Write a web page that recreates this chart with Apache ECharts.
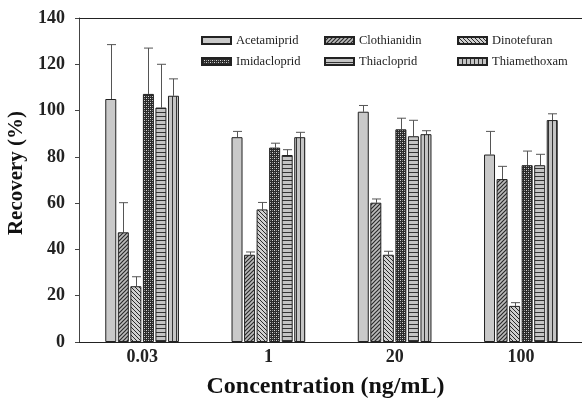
<!DOCTYPE html>
<html>
<head>
<meta charset="utf-8">
<script src="https://cdn.jsdelivr.net/npm/echarts@6/dist/echarts.min.js"></script>
<style>
  html, body { margin: 0; padding: 0; background: #fff; }
  #chart { width: 582px; height: 399px; }
</style>
</head>
<body>
<div id="chart"></div>
<script>
/* Recovery of neonicotinoids at four spiking levels */
const categories = ["0.03", "1", "20", "100"];
const names = ["Acetamiprid", "Clothianidin", "Dinotefuran", "Imidacloprid", "Thiacloprid", "Thiamethoxam"];

const acetamiprid  = [105.0, 88.5, 99.5, 81.0];
const clothianidin = [47.4, 37.7, 60.2, 70.4];
const dinotefuran  = [24.1, 57.3, 37.7, 15.6];
const imidacloprid = [107.2, 84.0, 91.9, 76.4];
const thiacloprid  = [101.3, 80.8, 88.9, 76.4];
const thiamethoxam = [106.4, 88.5, 89.8, 95.9];

const errAcetamiprid  = [23.5, 2.5, 2.7, 10.0];
const errClothianidin = [12.8, 1.2, 1.6, 5.5];
const errDinotefuran  = [4.1, 3.0, 1.5, 1.4];
const errImidacloprid = [19.8, 1.9, 4.8, 6.1];
const errThiacloprid  = [18.7, 2.3, 6.9, 4.7];
const errThiamethoxam = [7.3, 2.1, 1.5, 2.7];

const yTicks = [0, 20, 40, 60, 80, 100, 120, 140];

const values = [acetamiprid, clothianidin, dinotefuran, imidacloprid, thiacloprid, thiamethoxam];
const errors = [errAcetamiprid, errClothianidin, errDinotefuran, errImidacloprid, errThiacloprid, errThiamethoxam];

/* Fill patterns (canvas tiles) */
function tile(w, h, draw) {
  const c = document.createElement("canvas");
  c.width = w; c.height = h;
  const ctx = c.getContext("2d");
  draw(ctx, w, h);
  return { image: c, repeat: "repeat" };
}
const GRAY = "#c9c9c9", DARK = "#2a2a2a";

const fills = [
  GRAY,
  tile(4, 4, (ctx) => {            // ////
    ctx.fillStyle = "#bdbdbd"; ctx.fillRect(0, 0, 4, 4);
    ctx.strokeStyle = DARK; ctx.lineWidth = 1.2;
    ctx.beginPath();
    ctx.moveTo(-1, 5); ctx.lineTo(5, -1);
    ctx.moveTo(-1, 1); ctx.lineTo(1, -1);
    ctx.moveTo(3, 5); ctx.lineTo(5, 3);
    ctx.stroke();
  }),
  tile(4, 4, (ctx) => {            // \\\\
    ctx.fillStyle = "#d0d0d0"; ctx.fillRect(0, 0, 4, 4);
    ctx.strokeStyle = DARK; ctx.lineWidth = 1;
    ctx.beginPath();
    ctx.moveTo(-1, -1); ctx.lineTo(5, 5);
    ctx.moveTo(3, -1); ctx.lineTo(5, 1);
    ctx.moveTo(-1, 3); ctx.lineTo(1, 5);
    ctx.stroke();
  }),
  tile(4, 4, (ctx) => {            // fine dotted dark
    ctx.fillStyle = DARK; ctx.fillRect(0, 0, 4, 4);
    ctx.fillStyle = "#d8d8d8";
    ctx.fillRect(0, 0, 1, 1); ctx.fillRect(2, 2, 1, 1);
    ctx.fillStyle = "#8a8a8a";
    ctx.fillRect(2, 0, 1, 1); ctx.fillRect(0, 2, 1, 1);
  }),
  tile(4, 4, (ctx) => {            // horizontal stripes
    ctx.fillStyle = "#c4c4c4"; ctx.fillRect(0, 0, 4, 4);
    ctx.fillStyle = "#333"; ctx.fillRect(0, 0, 4, 1);
  }),
  tile(4, 4, (ctx) => {            // vertical stripes
    ctx.fillStyle = "#c4c4c4"; ctx.fillRect(0, 0, 4, 4);
    ctx.fillStyle = "#333"; ctx.fillRect(0, 0, 1, 4);
  })
];

const BAR_W = 11, BAR_GAP = 0.14;
const PITCH = BAR_W * (1 + BAR_GAP);
const FONT = "'Liberation Serif', 'DejaVu Serif', serif";

const barSeries = names.map((n, i) => ({
  name: n,
  type: "bar",
  data: values[i],
  barWidth: BAR_W,
  barGap: (BAR_GAP * 100) + "%",
  itemStyle: { color: fills[i], borderColor: "#222", borderWidth: 1 },
  z: 3
}));

const errData = [];
values.forEach((arr, s) => arr.forEach((v, c) => errData.push([c, s, v, errors[s][c]])));

const errSeries = {
  type: "custom",
  data: errData,
  z: 2,
  silent: true,
  renderItem(params, api) {
    const c = api.value(0), s = api.value(1), v = api.value(2), e = api.value(3);
    const base = api.coord([c, v]);
    const top = api.coord([c, v + e]);
    const x = Math.round(base[0] + (s - 2.5) * PITCH) + 0.5;
    const st = { stroke: "#555", lineWidth: 1 };
    return {
      type: "group",
      children: [
        { type: "line", shape: { x1: x, y1: base[1], x2: x, y2: top[1] }, style: st },
        { type: "line", shape: { x1: x - 4.5, y1: top[1], x2: x + 4.5, y2: top[1] }, style: st }
      ]
    };
  }
};

/* one small legend per entry, laid out 3 x 2 like the original */
const legendCols = [201, 324, 457];
const legendRows = [34, 55];
const legends = names.map((n, i) => ({
  data: [n],
  left: legendCols[i % 3],
  top: legendRows[Math.floor(i / 3)],
  padding: 0,
  itemWidth: 29,
  itemHeight: 7,
  icon: "rect",
  selectedMode: false,
  textStyle: { fontFamily: FONT, fontSize: 12.5, color: "#222" }
}));

const chart = echarts.init(document.getElementById("chart"));
chart.setOption({
  animation: false,
  backgroundColor: "#fff",
  grid: { left: 79, right: -2, top: 18, bottom: 57, outerBoundsMode: "none" },
  legend: legends,
  xAxis: [{
    type: "category",
    data: categories,
    name: "Concentration (ng/mL)",
    nameLocation: "middle",
    nameGap: 33,
    nameTextStyle: { fontFamily: FONT, fontSize: 24, fontWeight: "bold", color: "#111", padding: [0, 12, 0, 0] },
    axisLine: { lineStyle: { color: "#222", width: 1 } },
    axisTick: { alignWithLabel: true, length: 4, lineStyle: { color: "#222" } },
    axisLabel: { fontFamily: FONT, fontSize: 18, fontWeight: "bold", color: "#222", margin: 6 }
  }, {
    type: "category",
    data: categories,
    position: "top",
    axisLine: { lineStyle: { color: "#222", width: 1 } },
    axisTick: { show: false },
    axisLabel: { show: false }
  }],
  yAxis: {
    type: "value",
    min: 0,
    max: 140,
    interval: 20,
    name: "Recovery (%)",
    nameLocation: "middle",
    nameGap: 46,
    nameTextStyle: { fontFamily: FONT, fontSize: 21, fontWeight: "bold", color: "#111", padding: [0, 0, 0, 14] },
    axisLine: { show: true, lineStyle: { color: "#444", width: 1 } },
    axisTick: { show: true, length: 4, lineStyle: { color: "#444" } },
    axisLabel: {
      fontFamily: FONT, fontSize: 18, fontWeight: "bold", color: "#222", margin: 14,
      formatter: (v) => (yTicks.includes(v) ? String(v) : "")
    },
    splitLine: { show: false }
  },
  series: [...barSeries, errSeries]
});
</script>
</body>
</html>
